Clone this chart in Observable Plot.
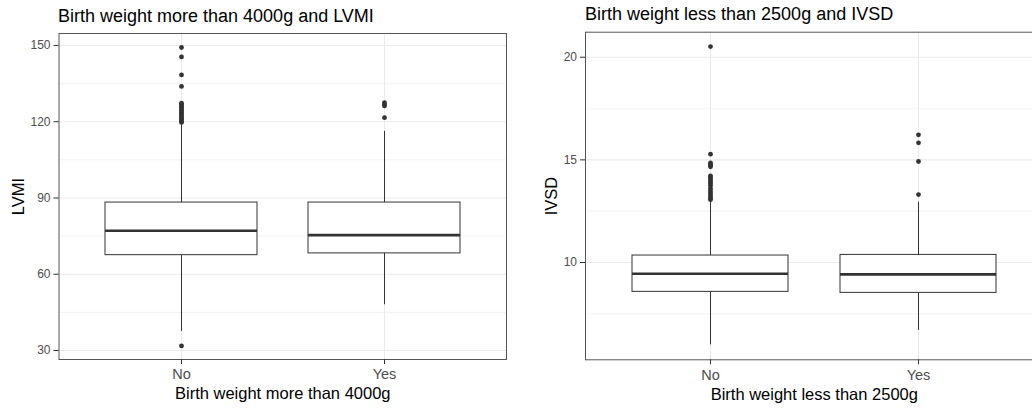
<!DOCTYPE html>
<html>
<head>
<meta charset="utf-8">
<script src="https://cdn.jsdelivr.net/npm/d3@7"></script>
<script src="https://cdn.jsdelivr.net/npm/@observablehq/plot@0.6"></script>
<style>
  html, body { margin: 0; padding: 0; background: white; overflow: hidden; }
  #root { position: relative; width: 1032px; height: 410px; overflow: hidden; background: white;
          font-family: "Liberation Sans", Arial, sans-serif; }
  .title { position: absolute; font-size: 18px; line-height: 18px; color: #000; white-space: nowrap; }
  .panel { position: absolute; top: 30px; }
  .panel svg { max-width: none !important; }
</style>
</head>
<body>
<div id="root"></div>
<script>
// ---- Left panel: Birth weight more than 4000g vs LVMI ----
const lvmiCategories = ["No", "Yes"];
const lvmiLower  = [37.5, 48.0];
const lvmiQ1     = [67.5, 68.2];
const lvmiMedian = [77.1, 75.4];
const lvmiQ3     = [88.2, 88.2];
const lvmiUpper  = [119.2, 116.2];
const lvmiOutliersNo  = [149.2, 145.5, 138.4, 133.9, 127.3, 126.8, 126.2, 125.6, 125.0, 124.4, 123.8, 123.2, 122.6, 122.0, 121.4, 120.8, 120.2, 119.7, 31.8];
const lvmiOutliersYes = [127.5, 126.8, 126.2, 121.6];
const lvmiTicks = [30, 60, 90, 120, 150];
const lvmiMinorTicks = [45, 75, 105, 135];

// ---- Right panel: Birth weight less than 2500g vs IVSD ----
const ivsdCategories = ["No", "Yes"];
const ivsdLower  = [5.99, 6.69];
const ivsdQ1     = [8.57, 8.52];
const ivsdMedian = [9.45, 9.42];
const ivsdQ3     = [10.34, 10.37];
const ivsdUpper  = [13.02, 12.94];
const ivsdOutliersNo  = [20.52, 15.28, 14.85, 14.78, 14.72, 14.66, 14.22, 14.15, 14.05, 13.95, 13.85, 13.75, 13.62, 13.5, 13.4, 13.3, 13.2, 13.12, 13.06];
const ivsdOutliersYes = [16.22, 15.83, 14.92, 13.31];
const ivsdTicks = [10, 15, 20];
const ivsdMinorTicks = [7.5, 12.5, 17.5];

const FONT = "'Liberation Sans', Arial, sans-serif";

function panel(o) {
  const stats = o.cats.map((c, i) => ({cat: c, lower: o.lower[i], q1: o.q1[i], med: o.med[i], q3: o.q3[i], upper: o.upper[i]}));
  const outliers = [
    ...o.outNo.map(v => ({cat: o.cats[0], v})),
    ...o.outYes.map(v => ({cat: o.cats[1], v}))
  ];
  return Plot.plot({
    width: o.width,
    height: 380,
    marginLeft: o.marginLeft,
    marginRight: o.marginRight,
    marginTop: o.marginTop,
    marginBottom: o.marginBottom,
    style: {fontFamily: FONT, background: "white", overflow: "visible", maxWidth: "none"},
    x: {domain: o.cats, paddingInner: 0.25, paddingOuter: 0.225, axis: null},
    y: {domain: o.domain, axis: null},
    marks: [
      Plot.gridY(o.minor, {stroke: "#f0f0f0", strokeOpacity: 1, strokeWidth: 0.8}),
      Plot.gridY(o.ticks, {stroke: "#ebebeb", strokeOpacity: 1, strokeWidth: 1.1}),
      Plot.gridX(o.cats, {stroke: "#ebebeb", strokeOpacity: 1, strokeWidth: 1.1}),
      Plot.ruleX(stats, {x: "cat", y1: "q3", y2: "upper", stroke: "#333", strokeWidth: 1}),
      Plot.ruleX(stats, {x: "cat", y1: "lower", y2: "q1", stroke: "#333", strokeWidth: 1}),
      Plot.barY(stats, {x: "cat", y1: "q1", y2: "q3", fill: "white", stroke: "#333", strokeWidth: 1}),
      Plot.tickY(stats, {x: "cat", y: "med", stroke: "#333", strokeWidth: 2.6}),
      Plot.dot(outliers, {x: "cat", y: "v", r: 2.4, fill: "#333", stroke: "none"}),
      Plot.frame({stroke: "#555", strokeWidth: 1}),
      Plot.axisY(o.ticks, {tickSize: 5, tickPadding: 3.5, fontSize: 12, fill: "#4d4d4d", stroke: "#333", label: null}),
      Plot.axisX(o.cats, {tickSize: 5, tickPadding: 4.5, fontSize: 14.5, fill: "#4d4d4d", stroke: "#333", label: null}),
      Plot.text([o.yLabel], {text: d => d, frameAnchor: "left", rotate: -90, dx: -o.yLabelOffset, fontSize: 16.5, fill: "black", textAnchor: "middle", lineAnchor: "middle"}),
      Plot.text([o.xLabel], {text: d => d, frameAnchor: "bottom", dy: 34.7, fontSize: 16.5, fill: "black", textAnchor: "middle", lineAnchor: "middle"})
    ]
  });
}

const root = document.getElementById("root");

function addPanel(left, titleText, titleTop, titleLeft, chart) {
  const t = document.createElement("div");
  t.className = "title";
  t.style.left = titleLeft + "px";
  t.style.top = titleTop + "px";
  t.textContent = titleText;
  root.appendChild(t);
  const p = document.createElement("div");
  p.className = "panel";
  p.style.left = left + "px";
  p.style.width = chart.getAttribute("width") + "px";
  p.appendChild(chart);
  root.appendChild(p);
}

const left = panel({
  cats: lvmiCategories, lower: lvmiLower, q1: lvmiQ1, med: lvmiMedian, q3: lvmiQ3, upper: lvmiUpper,
  outNo: lvmiOutliersNo, outYes: lvmiOutliersYes, ticks: lvmiTicks, minor: lvmiMinorTicks,
  domain: [26.46, 154.7], width: 516, marginLeft: 58.5, marginRight: 10, marginTop: 3, marginBottom: 51,
  yLabel: "LVMI", xLabel: "Birth weight more than 4000g", yLabelOffset: 40.5
});
addPanel(0, "Birth weight more than 4000g and LVMI", 6.8, 58, left);

const right = panel({
  cats: ivsdCategories, lower: ivsdLower, q1: ivsdQ1, med: ivsdMedian, q3: ivsdQ3, upper: ivsdUpper,
  outNo: ivsdOutliersNo, outYes: ivsdOutliersYes, ticks: ivsdTicks, minor: ivsdMinorTicks,
  domain: [5.26, 21.22], width: 530, marginLeft: 69, marginRight: 3.4, marginTop: 1.7, marginBottom: 50.7,
  yLabel: "IVSD", xLabel: "Birth weight less than 2500g", yLabelOffset: 34
});
addPanel(516, "Birth weight less than 2500g and IVSD", 4.8, 585, right);
</script>
</body>
</html>
